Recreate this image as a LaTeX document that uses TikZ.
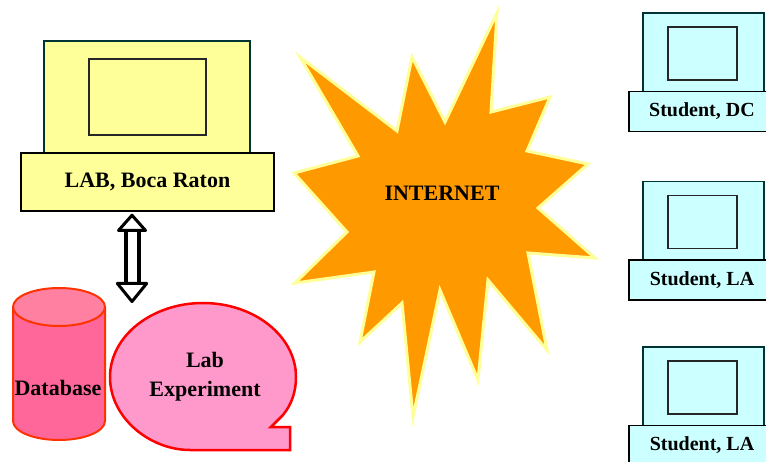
\documentclass[tikz,border=0pt]{standalone}
\usepackage{xcolor}
\usepackage{fontspec}
\setmainfont{Liberation Serif}
\definecolor{labyellow}{RGB}{255,255,153}
\definecolor{studentcyan}{RGB}{204,255,255}
\definecolor{darkteal}{RGB}{0,51,51}
\definecolor{starorange}{RGB}{255,153,0}
\definecolor{dbpink}{RGB}{255,102,153}
\definecolor{dbtop}{RGB}{255,128,160}
\definecolor{dbred}{RGB}{255,51,0}
\definecolor{bubblepink}{RGB}{255,153,204}
\usetikzlibrary{arrows.meta}
\tikzset{
    labbody/.style={draw=darkteal, line width=1.5, fill=labyellow},
    studentbody/.style={draw=darkteal, line width=1.5, fill=studentcyan},
    screen/.style={draw=black!85, line width=1.5},
    basebox/.style={draw=black, line width=1.5, inner sep=0},
    bigtext/.style={font=\fontsize{22}{29}\selectfont\bfseries},
    smalltext/.style={font=\fontsize{20}{24}\selectfont\bfseries},
    dbshape/.style={draw=dbred, line width=2},
    dblarrow/.style={double=white, double distance=9, line width=4,
        {Triangle[open, fill=white, length=19, width=33, line width=3, round]}-{Triangle[open, fill=white, length=22, width=35, line width=3, round]}},
}
\begin{document}
\begin{tikzpicture}[x=1pt, y=-1pt]
    \useasboundingbox (0, 0) rectangle (766, 462);
    % lab computer
    \draw[labbody] (44, 41) rectangle (250, 153);
    \draw[screen] (89, 59) rectangle (206, 135);
    \node[basebox, bigtext, fill=labyellow, minimum width=253, minimum height=58] (labbase) at (147.5, 182) {LAB, Boca Raton};
    % database and experiment
    \coordinate (arrowfoot) at (132, 303);
    \draw[dblarrow, shorten <=2] (labbase.south -| arrowfoot) -- (arrowfoot);
    \draw[dbshape, fill=dbpink] (13, 307) -- (13, 421) arc[start angle=180, end angle=360, x radius=46, y radius=-19] -- (105, 307);
    \draw[dbshape, fill=dbtop] (59, 307) circle[x radius=46, y radius=19];
    \node[bigtext] (dbtext) at (58, 388) {Database};
    \draw[draw=red, line width=2.5, fill=bubblepink] (283, 415) .. controls (292, 404) and (296, 391) .. (296, 377)
        .. controls (296, 336) and (254, 303) .. (203, 303)
        .. controls (152, 303) and (110, 336) .. (110, 377)
        .. controls (110, 418) and (150, 450) .. (190, 450)
        -- (290, 450) -- (290, 427) -- (271, 427) -- cycle;
    \node[bigtext, align=center] (labexp) at (205, 377) {Lab\\Experiment};
    % internet
    \draw[draw=labyellow, line width=3, fill=starorange] (497, 13) -- (491, 112) -- (550, 97) -- (527, 151) -- (588, 164)
        -- (538, 208) -- (595, 258) -- (528, 253) -- (547, 350) -- (488, 280) -- (478, 380) -- (440, 290)
        -- (413, 417) -- (402, 303) -- (360, 342) -- (374, 272) -- (295, 283) -- (347, 232) -- (294, 173)
        -- (358, 156) -- (300, 57) -- (397, 131) -- (412, 57) -- (445, 122) -- cycle;
    \node[bigtext] (internet) at (442, 193) {INTERNET};
    % students
    \foreach \y/\name/\where in {0/dc/{Student, DC},168.5/la/{Student, LA},334/lb/{Student, LA}} {
        \draw[studentbody] (643, 13+\y) rectangle (764, 92+\y);
        \draw[screen] (668, 27+\y) rectangle (737, 80+\y);
        \node[basebox, smalltext, fill=studentcyan, minimum width=146, minimum height=40] (\name) at (702, 111.5+\y) {\where};
    }
\end{tikzpicture}
\end{document}
